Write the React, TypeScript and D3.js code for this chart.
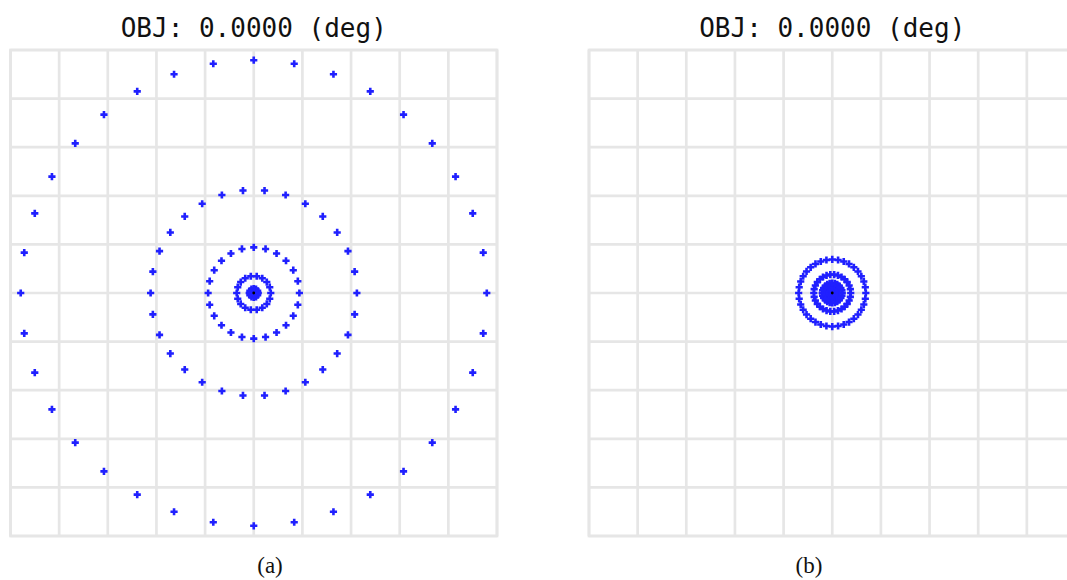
import React from "react";
import * as d3 from "d3";

// Spot diagram data (hexapolar ring pattern), radii in grid units (10 x 10 box)
const ringIndex = [0, 1, 2, 3, 4, 5, 6];
const ringPointCount = [1, 6, 12, 18, 24, 30, 36];
const radiiA = [0, 0.015, 0.093, 0.35, 0.938, 2.12, 4.79];
const radiiB = [0, 0.01, 0.04, 0.1, 0.206, 0.38, 0.69];
const panelTitles = ["OBJ: 0.0000 (deg)", "OBJ: 0.0000 (deg)"];
const captions = ["(a)", "(b)"];
const gridTicks = [-5, -4, -3, -2, -1, 0, 1, 2, 3, 4, 5];

const W = 1067;
const H = 580;

type PanelProps = {
  x0: number;
  x1: number;
  y0: number;
  y1: number;
  radii: number[];
  title: string;
  caption: string;
  captionX: number;
};

function Panel({ x0, x1, y0, y1, radii, title, caption, captionX }: PanelProps) {
  const xs = d3.scaleLinear().domain([-5, 5]).range([x0, x1]);
  const ys = d3.scaleLinear().domain([-5, 5]).range([y1, y0]);
  const pts: { x: number; y: number }[] = [];
  ringIndex.forEach((ri) => {
    const n = ringPointCount[ri];
    const r = radii[ri];
    for (let k = 0; k < n; k++) {
      const a = (2 * Math.PI * k) / n;
      pts.push({ x: r * Math.cos(a), y: r * Math.sin(a) });
    }
  });
  const arm = 3.6;
  const cx = (x0 + x1) / 2;
  return (
    <g>
      <text
        x={cx}
        y={36.5}
        textAnchor="middle"
        fontFamily="'DejaVu Sans Mono', monospace"
        fontSize={26}
        fill="#111"
      >
        {title}
      </text>
      <rect x={x0} y={y0} width={x1 - x0} height={y1 - y0} fill="#fff" />
      {gridTicks.map((t) => (
        <line
          key={"v" + t}
          x1={xs(t)}
          x2={xs(t)}
          y1={y0}
          y2={y1}
          stroke="#e6e6e6"
          strokeWidth={2.7}
        />
      ))}
      {gridTicks.map((t) => (
        <line
          key={"h" + t}
          x1={x0}
          x2={x1}
          y1={ys(t)}
          y2={ys(t)}
          stroke="#e6e6e6"
          strokeWidth={2.7}
        />
      ))}
      <rect
        x={x0}
        y={y0}
        width={x1 - x0}
        height={y1 - y0}
        fill="none"
        stroke="#e6e6e6"
        strokeWidth={2.7}
      />
      {pts.map((p, i) => {
        const px = xs(p.x);
        const py = ys(p.y);
        return (
          <path
            key={i}
            d={`M${px - arm},${py}H${px + arm}M${px},${py - arm}V${py + arm}`}
            stroke="#2020ff"
            strokeWidth={2.6}
            fill="none"
          />
        );
      })}
      <circle cx={xs(0)} cy={ys(0)} r={1.4} fill="#000" />
      <text
        x={captionX}
        y={573}
        textAnchor="middle"
        fontFamily="'Liberation Serif', serif"
        fontSize={23}
        fill="#111"
      >
        {caption}
      </text>
    </g>
  );
}

export default function App() {
  return (
    <svg
      width={W}
      height={H}
      style={{ position: "absolute", left: 0, top: 0, background: "#fff" }}
    >
      <Panel
        x0={10.5}
        x1={497}
        y0={50}
        y1={536}
        radii={radiiA}
        title={panelTitles[0]}
        caption={captions[0]}
        captionX={270}
      />
      <Panel
        x0={589}
        x1={1075.5}
        y0={50}
        y1={536}
        radii={radiiB}
        title={panelTitles[1]}
        caption={captions[1]}
        captionX={809}
      />
    </svg>
  );
}
